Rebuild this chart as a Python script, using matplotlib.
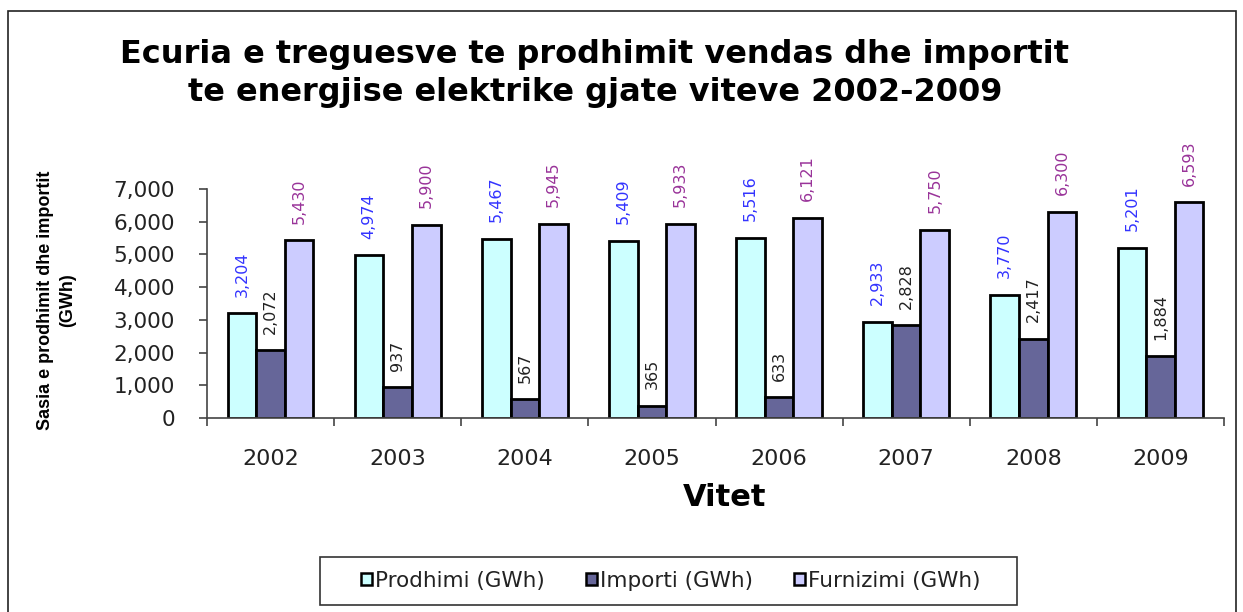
import matplotlib.pyplot as plt
import matplotlib.patches as mpatches
from matplotlib.ticker import FuncFormatter
import numpy as np

years = ["2002", "2003", "2004", "2005", "2006", "2007", "2008", "2009"]
prodhimi = [3204, 4974, 5467, 5409, 5516, 2933, 3770, 5201]
importi = [2072, 937, 567, 365, 633, 2828, 2417, 1884]
furnizimi = [5430, 5900, 5945, 5933, 6121, 5750, 6300, 6593]
series_names = ["Prodhimi (GWh)", "Importi (GWh)", "Furnizimi (GWh)"]
colors = ["#ccffff", "#666699", "#ccccff"]
label_colors = ["#3333ff", "#222222", "#993399"]

W, H = 1243, 612
plt.rcParams['font.family'] = ['DejaVu Sans']
fig = plt.figure(figsize=(W / 100, H / 100), dpi=100)

# outer border
fig.patches.append(mpatches.Rectangle((8 / W, -0.05), (1236 - 8) / W, 1.05 - 11 / H,
                                      transform=fig.transFigure, fill=False,
                                      edgecolor="#222222", lw=1.2))

ax = fig.add_axes([207 / W, 1 - 418 / H, (1224 - 207) / W, (418 - 189) / H])
x = np.arange(len(years))
bw = 0.225
for i, (vals, c, lc) in enumerate(zip([prodhimi, importi, furnizimi], colors, label_colors)):
    pos = x + (i - 1) * bw
    ax.bar(pos, vals, bw, color=c, edgecolor="black", linewidth=2, label=series_names[i])
    for p, v in zip(pos, vals):
        ax.annotate(f"{v:,}", (p, v), xytext=(0, 12), textcoords="offset points",
                    rotation=90, ha="center", va="bottom", fontsize=11.5, color=lc)

ax.set_xlim(-0.5, len(years) - 0.5)
ax.set_ylim(0, 7000)
ax.set_yticks(range(0, 7001, 1000))
ax.yaxis.set_major_formatter(FuncFormatter(lambda v, p: f"{int(v):,}"))
ax.set_xticks(x)
ax.set_xticklabels(years)
ax.set_xticks(np.arange(-0.5, len(years), 1), minor=True)
ax.tick_params(axis="x", which="major", length=0, pad=22, labelsize=16, labelcolor="#222222")
ax.tick_params(axis="x", which="minor", length=6, direction="out", width=1.2, color="#444444")
ax.tick_params(axis="y", length=6, width=1.2, color="#444444", labelsize=15.5, pad=17,
               labelcolor="#222222")
for s in ["top", "right"]:
    ax.spines[s].set_visible(False)
for s in ["left", "bottom"]:
    ax.spines[s].set_color("#444444")
    ax.spines[s].set_linewidth(1.2)

fig.text(595 / W, 1 - 55 / H, "Ecuria e treguesve te prodhimit vendas dhe importit",
         ha="center", va="center", fontsize=23, fontweight="bold")
fig.text(595 / W, 1 - 92 / H, "te energjise elektrike gjate viteve 2002-2009",
         ha="center", va="center", fontsize=23, fontweight="bold")
fig.text(725 / W, 1 - 498 / H, "Vitet", ha="center", va="center", fontsize=22, fontweight="bold")
fig.text(46 / W, 1 - 300 / H, "Sasia e prodhimit dhe importit", ha="center", va="center",
         rotation=90, fontsize=13, fontweight="bold", family="Liberation Sans")
fig.text(68 / W, 1 - 300 / H, "(GWh)", ha="center", va="center",
         rotation=90, fontsize=13, fontweight="bold", family="Liberation Sans")

# legend box drawn at its place, legend entries centred inside it
fig.patches.append(mpatches.Rectangle((320 / W, 1 - 605 / H), (1017 - 320) / W, 48 / H,
                                      transform=fig.transFigure, fill=False,
                                      edgecolor="#333333", lw=1.2))
handles = [mpatches.Patch(facecolor=c, edgecolor="black", lw=1.8) for c in colors]
leg = fig.legend(handles, series_names, loc="center", bbox_to_anchor=(671 / W, 1 - 581 / H),
                 ncol=3, fontsize=15.5, frameon=False,
                 handlelength=0.5, handleheight=0.5, handletextpad=0.15, columnspacing=1.9,
                 borderpad=0.3, labelcolor="#222222")

fig.savefig("out.png", dpi=100)
